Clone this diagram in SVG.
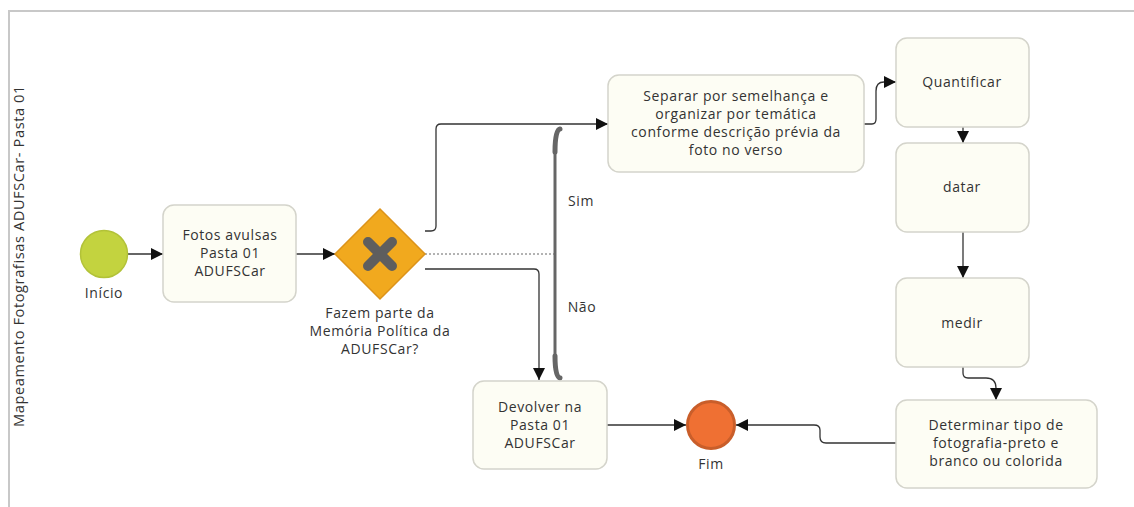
<svg xmlns="http://www.w3.org/2000/svg" width="1134" height="507" viewBox="0 0 1134 507">
<defs>
<marker id="arr" markerUnits="userSpaceOnUse" markerWidth="12" markerHeight="12" refX="12" refY="6" orient="auto">
<path d="M0,0 L12,6 L0,12 z" fill="#111"/>
</marker>
<style>
.t{font-family:"Open Sans","Liberation Sans",sans-serif;font-size:14px;letter-spacing:0.6px;fill:#333;text-anchor:middle}
.task{fill:#fdfdf4;stroke:#d4d4cb;stroke-width:1.5}
.ca{fill:none;stroke:#333;stroke-width:1.3;marker-end:url(#arr)}
</style>
</defs>
<rect width="1134" height="507" fill="#fff"/>
<g id="pool">
<path d="M9,507 V11 H1134" fill="none" stroke="#c8c8c8" stroke-width="2"/>
<text class="t" transform="translate(24,256) rotate(-90)" textLength="342" lengthAdjust="spacingAndGlyphs">Mapeamento Fotografisas ADUFSCar- Pasta 01</text>
</g>
<g id="connectors">
<path class="ca" d="M128,254 H163"/>
<path class="ca" d="M296,254 H335"/>
<path class="ca" d="M425,231 H431 Q436,231 436,226 V129 Q436,124 441,124 H608"/>
<path class="ca" d="M425,269 H534 Q539,269 539,274 V380"/>
<path d="M425,254 H555" fill="none" stroke="#666" stroke-width="1" stroke-dasharray="2,2"/>
<path class="ca" d="M864,124 H872 Q876,124 876,119 V91 Q876,82 884,82 H896"/>
<path class="ca" d="M963,127 V143"/>
<path class="ca" d="M963,232 V278"/>
<path class="ca" d="M963,367 V373 Q963,378 968,378 H986 Q996,378 996,388 V400"/>
<path class="ca" d="M896,443 H826 Q820,443 820,437 V430 Q820,425 814,425 H736"/>
<path class="ca" d="M607,425 H686"/>
</g>
<g id="annotation">
<path d="M555,140 V368" fill="none" stroke="#666" stroke-width="3"/>
<path d="M555,152 Q555,130 560,129" fill="none" stroke="#666" stroke-width="5" stroke-linecap="round"/>
<path d="M555,356 Q555,377 560,378" fill="none" stroke="#666" stroke-width="5" stroke-linecap="round"/>
<text class="t" x="581" y="206">Sim</text>
<text class="t" x="582" y="312">Não</text>
</g>
<g id="start">
<circle cx="104" cy="254" r="23.5" fill="#c3d33f" stroke="#b2c238" stroke-width="1.5"/>
<text class="t" x="104" y="298">Início</text>
</g>
<g id="task-fotos">
<rect class="task" x="163" y="205" width="133" height="97" rx="11"/>
<text class="t" x="230" y="240">Fotos avulsas</text>
<text class="t" x="230" y="258">Pasta 01</text>
<text class="t" x="230" y="276">ADUFSCar</text>
</g>
<g id="gateway">
<path d="M380,209 L425,254 L380,299 L335,254 z" fill="#f1a91e" stroke="#dc931a" stroke-width="1.5"/>
<path d="M368,242 L392,266 M392,242 L368,266" stroke="#5e5e5e" stroke-width="10" stroke-linecap="round"/>
<text class="t" x="380" y="318">Fazem parte da</text>
<text class="t" x="380" y="336">Memória Política da</text>
<text class="t" x="380" y="354">ADUFSCar?</text>
</g>
<g id="task-separar">
<rect class="task" x="608" y="75" width="256" height="97" rx="11"/>
<text class="t" x="736" y="101">Separar por semelhança e</text>
<text class="t" x="736" y="119">organizar por temática</text>
<text class="t" x="736" y="137">conforme descrição prévia da</text>
<text class="t" x="736" y="155">foto no verso</text>
</g>
<g id="task-quantificar">
<rect class="task" x="896" y="38" width="133" height="89" rx="11"/>
<text class="t" x="962" y="87">Quantificar</text>
</g>
<g id="task-datar">
<rect class="task" x="896" y="143" width="133" height="89" rx="11"/>
<text class="t" x="962" y="192">datar</text>
</g>
<g id="task-medir">
<rect class="task" x="896" y="278" width="133" height="89" rx="11"/>
<text class="t" x="962" y="328">medir</text>
</g>
<g id="task-determinar">
<rect class="task" x="896" y="400" width="201" height="88" rx="11"/>
<text class="t" x="996" y="430">Determinar tipo de</text>
<text class="t" x="996" y="448">fotografia-preto e</text>
<text class="t" x="996" y="466">branco ou colorida</text>
</g>
<g id="task-devolver">
<rect class="task" x="473" y="381" width="134" height="88" rx="11"/>
<text class="t" x="540" y="412">Devolver na</text>
<text class="t" x="540" y="430">Pasta 01</text>
<text class="t" x="540" y="448">ADUFSCar</text>
</g>
<g id="end">
<circle cx="711" cy="425" r="23.5" fill="#ef7033" stroke="#c95e2a" stroke-width="3"/>
<text class="t" x="711" y="469">Fim</text>
</g>
</svg>
